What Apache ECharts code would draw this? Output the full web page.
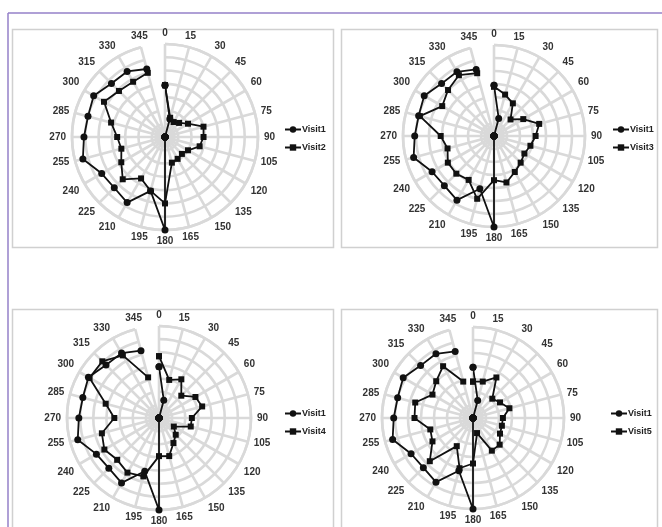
<!DOCTYPE html>
<html>
<head>
<meta charset="utf-8">
<script src="https://cdn.jsdelivr.net/npm/echarts@6/dist/echarts.min.js"></script>
<style>
  html, body { margin: 0; padding: 0; background: #fff; }
  #chart { width: 662px; height: 527px; }
</style>
</head>
<body>
<div id="chart"></div>
<script>
// angle categories (degrees)
const angles = ['0', '15', '30', '45', '60', '75', '90', '105', '120', '135', '150', '165',
  '180', '195', '210', '225', '240', '255', '270', '285', '300', '315', '330', '345']

// readings per visit, one value per angle
const visit1 = [39, 14, 0, 0, 0, 0, 0, 0, 0, 0, 0, 0, 70, 42, 57, 54, 55, 64, 61, 60, 62, 57, 57, 53]
const visit2 = [39, 15, 13, 15, 20, 30, 29, 27, 20, 18, 19, 20, 50, 42, 36, 45, 38, 34, 36, 42, 53, 49, 48, 50]
const visit3 = [38, 33, 29, 18, 26, 36, 32, 29, 27, 29, 32, 37, 34, 50, 39, 41, 41, 37, 41, 59, 46, 50, 54, 50]
const visit4 = [47, 30, 34, 24, 32, 34, 25, 25, 13, 18, 22, 30, 29, 46, 48, 45, 48, 45, 34, 42, 61, 61, 55, 32]
const visit5 = [28, 29, 36, 21, 24, 29, 23, 23, 24, 29, 29, 12, 35, 40, 25, 47, 36, 34, 45, 46, 36, 40, 46, 29]

const radiusMax = 70
const radiusStep = 10

const panels = [
  { name: 'Visit2', data: visit2, center: [165, 137], radius: 93, legend: { left: 284, top: 125 } },
  { name: 'Visit3', data: visit3, center: [494, 136], radius: 91, legend: { left: 612, top: 125 } },
  { name: 'Visit4', data: visit4, center: [159, 418], radius: 92, legend: { left: 284, top: 409 } },
  { name: 'Visit5', data: visit5, center: [473, 418], radius: 91, legend: { left: 610, top: 409 } }
]

const gridLine = { color: '#d9d9d9', width: 2.6 }
const labelFont = 'Liberation Sans'

// close the loop like a radar chart
const toLoop = vals => {
  const pts = angles.map((a, i) => [vals[i], i])
  pts.push([vals[0], 0])
  return pts
}

const chart = echarts.init(document.getElementById('chart'), null, { renderer: 'canvas' })

const polar = panels.map(p => ({ center: p.center, radius: p.radius }))

const angleAxis = panels.map((p, i) => ({
  polarIndex: i,
  type: 'category',
  data: angles,
  startAngle: 90,
  clockwise: true,
  boundaryGap: false,
  axisLine: { show: true, lineStyle: gridLine },
  axisTick: { show: false },
  axisLabel: {
    margin: 6,
    fontSize: 10,
    fontWeight: 'bold',
    fontFamily: labelFont,
    color: '#333',
    interval: 0
  },
  splitLine: { show: true, lineStyle: gridLine }
}))

const radiusAxis = panels.map((p, i) => ({
  polarIndex: i,
  type: 'value',
  min: 0,
  max: radiusMax,
  interval: radiusStep,
  axisLine: { show: false },
  axisTick: { show: false },
  axisLabel: { show: false },
  splitLine: { show: true, lineStyle: gridLine }
}))

const lineSeries = (name, vals, idx, symbol) => ({
  name,
  type: 'line',
  coordinateSystem: 'polar',
  polarIndex: idx,
  data: toLoop(vals),
  symbol,
  symbolSize: symbol === 'circle' ? 7 : 6,
  lineStyle: { color: '#111', width: 1.8 },
  itemStyle: { color: '#111' },
  animation: false,
  z: 5
})

const series = []
panels.forEach((p, i) => {
  series.push(lineSeries('Visit1', visit1, i, 'circle'))
  series.push(lineSeries(p.name, p.data, i, 'rect'))
})

const legend = panels.map(p => ({
  data: ['Visit1', p.name],
  orient: 'vertical',
  left: p.legend.left,
  top: p.legend.top,
  padding: 0,
  itemWidth: 16,
  itemHeight: 8,
  itemGap: 9,
  selectedMode: false,
  textStyle: { fontSize: 9, fontWeight: 'bold', fontFamily: labelFont, color: '#222', padding: [0, 0, 0, -4] }
}))

// panel frames and the purple outer border
const frame = (x, y, w, h) => ({
  type: 'rect',
  shape: { x, y, width: w, height: h },
  style: { fill: 'none', stroke: '#d0d0d0', lineWidth: 1.5 },
  silent: true
})

const graphic = [
  frame(12.5, 29.5, 321, 218),
  frame(341.5, 29.5, 316, 218),
  frame(12.5, 309.5, 321, 230),
  frame(341.5, 309.5, 316, 230),
  { type: 'line', shape: { x1: 8, y1: 13, x2: 662, y2: 13 }, style: { stroke: '#9580c8', lineWidth: 1.5 }, silent: true },
  { type: 'line', shape: { x1: 8, y1: 13, x2: 8, y2: 527 }, style: { stroke: '#9580c8', lineWidth: 1.5 }, silent: true }
]

chart.setOption({
  backgroundColor: '#fff',
  animation: false,
  polar,
  angleAxis,
  radiusAxis,
  legend,
  graphic,
  series
})
</script>
</body>
</html>
